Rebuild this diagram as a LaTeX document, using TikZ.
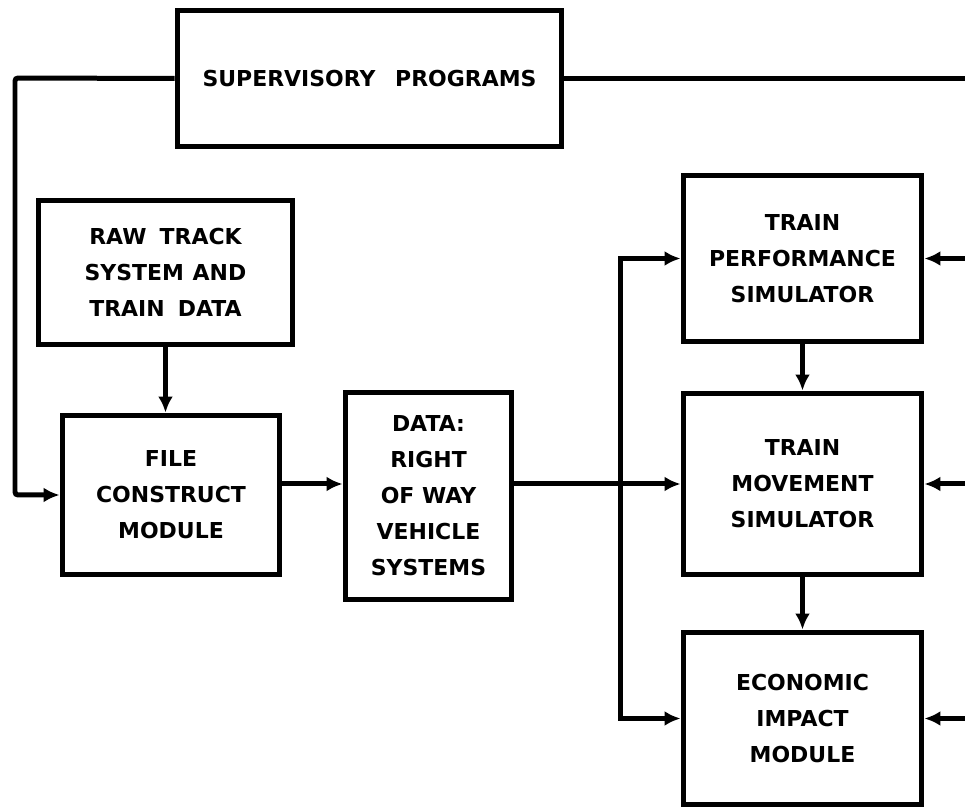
\documentclass[tikz,border=0pt]{standalone}
\usepackage{fontspec}
\setsansfont{DejaVu Sans}
\usetikzlibrary{arrows.meta, positioning, calc}

\tikzset{
  blk/.style={draw, line width=0.1cm, align=center, inner sep=0pt,
    font=\sffamily\bfseries\fontsize{12.5}{20.5}\selectfont},
  arr/.style={line width=0.1cm, -{Latex[length=3.2mm,width=3mm]}},
  ln/.style={line width=0.1cm}
}

\begin{document}
\begin{tikzpicture}[x=0.02cm, y=-0.02cm]
  \useasboundingbox (0,0) rectangle (965,810);
  % Blocks
  \node[blk, minimum width=7.7cm, minimum height=2.74cm] (sup) at (369.5,78.5) {SUPERVISORY\hspace{0.9em}PROGRAMS};
  \node[blk, minimum width=5.1cm, minimum height=2.9cm] (raw) at (165.5,272.5) {RAW\hspace{0.6em}TRACK\\SYSTEM\hspace{0.4em}AND\\TRAIN\hspace{0.6em}DATA};
  \node[blk, minimum width=4.36cm, minimum height=3.2cm] (file) at (171,495) {FILE\\CONSTRUCT\\MODULE};
  \node[blk, minimum width=3.34cm, minimum height=4.16cm] (data) at (428.5,496) {DATA:\\RIGHT\\OF WAY\\VEHICLE\\SYSTEMS};
  \node[blk, minimum width=4.78cm, minimum height=3.34cm] (perf) at (802.5,258.5) {TRAIN\\PERFORMANCE\\SIMULATOR};
  \node[blk, minimum width=4.78cm, minimum height=3.64cm] (move) at (802.5,484) {TRAIN\\MOVEMENT\\SIMULATOR};
  \node[blk, minimum width=4.78cm, minimum height=3.46cm] (econ) at (802.5,718.5) {ECONOMIC\\IMPACT\\MODULE};
  % Free ends and bends
  \coordinate (lbend) at (15,78);
  \coordinate (redge) at (965,0);
  \coordinate (split) at (620,484);
  % Supervisory links
  \draw[arr, rounded corners=0.06cm] (sup.west) -- (lbend) |- (file.west);
  \draw[ln] (sup.east) -- (sup.east -| redge);
  % Data path
  \draw[arr] (raw.south) -- (raw.south |- file.north);
  \draw[arr] (file.east |- move.west) -- (data.west |- move.west);
  \draw[arr] (data.east |- move.west) -- (move.west);
  \draw[arr] (split) |- (perf.west);
  \draw[arr] (split) |- (econ.west);
  \draw[arr] (perf.south) -- (move.north);
  \draw[arr] (move.south) -- (econ.north);
  % Inputs from the right
  \draw[arr] (perf.east -| redge) -- (perf.east);
  \draw[arr] (move.east -| redge) -- (move.east);
  \draw[arr] (econ.east -| redge) -- (econ.east);
\end{tikzpicture}
\end{document}
